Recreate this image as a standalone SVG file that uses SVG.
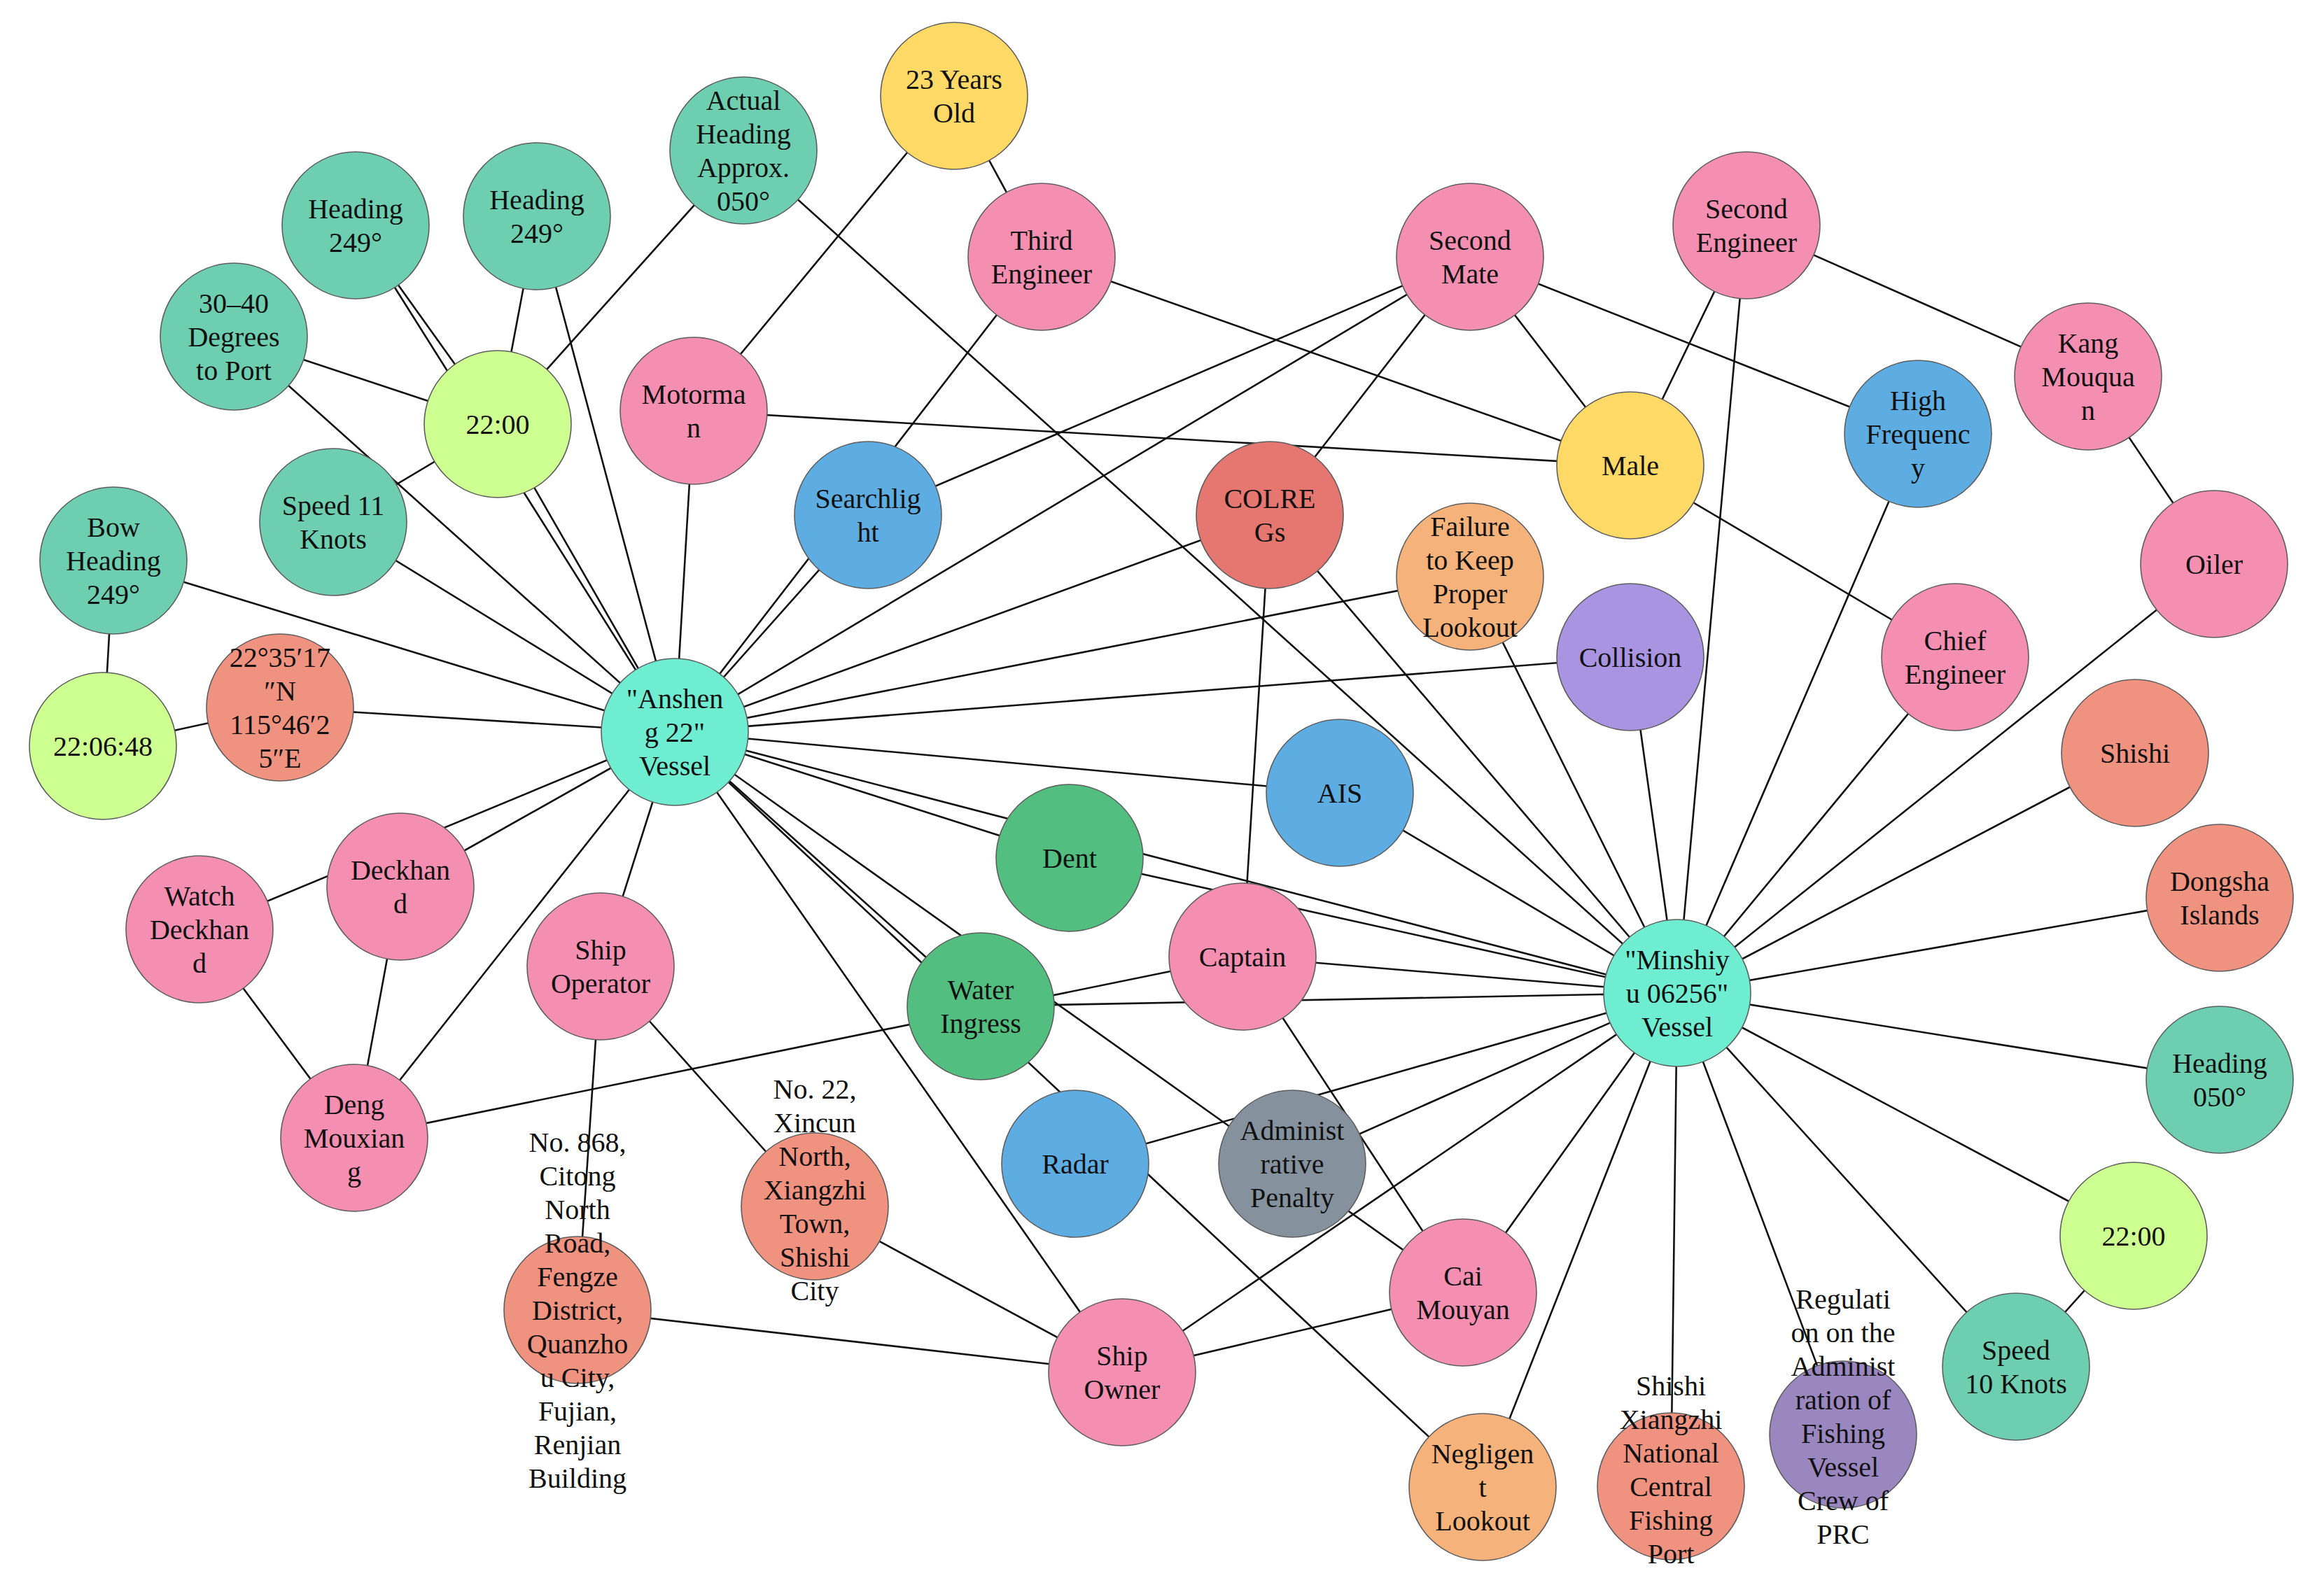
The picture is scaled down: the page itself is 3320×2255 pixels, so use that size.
<svg xmlns="http://www.w3.org/2000/svg" width="3320" height="2255" viewBox="0 0 3320 2255">
<style>
.n circle{stroke:#5e5e5e;stroke-width:1.6}
.vessel{fill:#6FEDD1}.teal{fill:#6DCFB0}.lime{fill:#CDFF91}.yellow{fill:#FFD966}.pink{fill:#F48FB1}.blue{fill:#5DADE2}.red{fill:#E57670}.salmon{fill:#F09280}.orange{fill:#F5B27A}.purple{fill:#A994E2}.purple2{fill:#9B87C0}.gray{fill:#85929E}.green{fill:#52BE80}
text{font-family:"Liberation Serif","Times New Roman",serif;font-size:40px;fill:#111;text-anchor:middle}
#connectors line{stroke:#111;stroke-width:2.6}
</style>
<rect width="3320" height="2255" fill="#fff"/>
<g id="connectors">
<line x1="964" y1="1046" x2="334" y2="481"/>
<line x1="964" y1="1046" x2="476" y2="746"/>
<line x1="964" y1="1046" x2="162" y2="801"/>
<line x1="964" y1="1046" x2="400" y2="1011"/>
<line x1="964" y1="1046" x2="711" y2="606"/>
<line x1="964" y1="1046" x2="508" y2="322"/>
<line x1="964" y1="1046" x2="767" y2="309"/>
<line x1="964" y1="1046" x2="991" y2="587"/>
<line x1="964" y1="1046" x2="1240" y2="736"/>
<line x1="964" y1="1046" x2="1488" y2="367"/>
<line x1="964" y1="1046" x2="2100" y2="367"/>
<line x1="964" y1="1046" x2="1814" y2="736"/>
<line x1="964" y1="1046" x2="2100" y2="824"/>
<line x1="964" y1="1046" x2="2329" y2="939"/>
<line x1="964" y1="1046" x2="1914" y2="1133"/>
<line x1="964" y1="1046" x2="1528" y2="1226"/>
<line x1="964" y1="1046" x2="2396" y2="1419"/>
<line x1="964" y1="1046" x2="2090" y2="1847"/>
<line x1="964" y1="1046" x2="1401" y2="1438"/>
<line x1="964" y1="1046" x2="2118" y2="2125"/>
<line x1="964" y1="1046" x2="1603" y2="1961"/>
<line x1="964" y1="1046" x2="858" y2="1381"/>
<line x1="964" y1="1046" x2="506" y2="1626"/>
<line x1="964" y1="1046" x2="572" y2="1267"/>
<line x1="964" y1="1046" x2="285" y2="1328"/>
<line x1="2396" y1="1419" x2="1062" y2="215"/>
<line x1="2396" y1="1419" x2="2495" y2="322"/>
<line x1="2396" y1="1419" x2="2740" y2="620"/>
<line x1="2396" y1="1419" x2="2793" y2="939"/>
<line x1="2396" y1="1419" x2="3163" y2="806"/>
<line x1="2396" y1="1419" x2="3050" y2="1076"/>
<line x1="2396" y1="1419" x2="3171" y2="1283"/>
<line x1="2396" y1="1419" x2="3171" y2="1543"/>
<line x1="2396" y1="1419" x2="3048" y2="1766"/>
<line x1="2396" y1="1419" x2="2880" y2="1953"/>
<line x1="2396" y1="1419" x2="2633" y2="2050"/>
<line x1="2396" y1="1419" x2="2387" y2="2124"/>
<line x1="2396" y1="1419" x2="2118" y2="2125"/>
<line x1="2396" y1="1419" x2="2090" y2="1847"/>
<line x1="2396" y1="1419" x2="1603" y2="1961"/>
<line x1="2396" y1="1419" x2="1846" y2="1663"/>
<line x1="2396" y1="1419" x2="1536" y2="1663"/>
<line x1="2396" y1="1419" x2="1401" y2="1438"/>
<line x1="2396" y1="1419" x2="1775" y2="1367"/>
<line x1="2396" y1="1419" x2="1528" y2="1226"/>
<line x1="2396" y1="1419" x2="1914" y2="1133"/>
<line x1="2396" y1="1419" x2="1814" y2="736"/>
<line x1="2396" y1="1419" x2="2100" y2="824"/>
<line x1="2396" y1="1419" x2="2329" y2="939"/>
<line x1="508" y1="322" x2="711" y2="606"/>
<line x1="767" y1="309" x2="711" y2="606"/>
<line x1="334" y1="481" x2="711" y2="606"/>
<line x1="476" y1="746" x2="711" y2="606"/>
<line x1="1062" y1="215" x2="711" y2="606"/>
<line x1="162" y1="801" x2="147" y2="1066"/>
<line x1="147" y1="1066" x2="400" y2="1011"/>
<line x1="1363" y1="137" x2="991" y2="587"/>
<line x1="1363" y1="137" x2="1488" y2="367"/>
<line x1="991" y1="587" x2="2329" y2="665"/>
<line x1="1488" y1="367" x2="2329" y2="665"/>
<line x1="2100" y1="367" x2="1240" y2="736"/>
<line x1="2100" y1="367" x2="1814" y2="736"/>
<line x1="2100" y1="367" x2="2329" y2="665"/>
<line x1="2100" y1="367" x2="2740" y2="620"/>
<line x1="2495" y1="322" x2="2329" y2="665"/>
<line x1="2495" y1="322" x2="2983" y2="538"/>
<line x1="2983" y1="538" x2="3163" y2="806"/>
<line x1="2329" y1="665" x2="2793" y2="939"/>
<line x1="1814" y1="736" x2="1775" y2="1367"/>
<line x1="1775" y1="1367" x2="2090" y2="1847"/>
<line x1="506" y1="1626" x2="1775" y2="1367"/>
<line x1="572" y1="1267" x2="506" y2="1626"/>
<line x1="285" y1="1328" x2="506" y2="1626"/>
<line x1="858" y1="1381" x2="825" y2="1872"/>
<line x1="858" y1="1381" x2="1164" y2="1724"/>
<line x1="1164" y1="1724" x2="1603" y2="1961"/>
<line x1="825" y1="1872" x2="1603" y2="1961"/>
<line x1="2090" y1="1847" x2="1603" y2="1961"/>
<line x1="2880" y1="1953" x2="3048" y2="1766"/>
</g>
<g id="n-anshen" class="n"><circle class="vessel" cx="964" cy="1046" r="105"/><text><tspan x="964" y="1012">"Anshen</tspan><tspan x="964" y="1060">g 22"</tspan><tspan x="964" y="1108">Vessel</tspan></text></g>
<g id="n-minshiyu" class="n"><circle class="vessel" cx="2396" cy="1419" r="105"/><text><tspan x="2396" y="1385">"Minshiy</tspan><tspan x="2396" y="1433">u 06256"</tspan><tspan x="2396" y="1481">Vessel</tspan></text></g>
<g id="n-age" class="n"><circle class="yellow" cx="1363" cy="137" r="105"/><text><tspan x="1363" y="127">23 Years</tspan><tspan x="1363" y="175">Old</tspan></text></g>
<g id="n-actual" class="n"><circle class="teal" cx="1062" cy="215" r="105"/><text><tspan x="1062" y="157">Actual</tspan><tspan x="1062" y="205">Heading</tspan><tspan x="1062" y="253">Approx.</tspan><tspan x="1062" y="301">050°</tspan></text></g>
<g id="n-headL" class="n"><circle class="teal" cx="508" cy="322" r="105"/><text><tspan x="508" y="312">Heading</tspan><tspan x="508" y="360">249°</tspan></text></g>
<g id="n-headR" class="n"><circle class="teal" cx="767" cy="309" r="105"/><text><tspan x="767" y="299">Heading</tspan><tspan x="767" y="347">249°</tspan></text></g>
<g id="n-deg" class="n"><circle class="teal" cx="334" cy="481" r="105"/><text><tspan x="334" y="447">30–40</tspan><tspan x="334" y="495">Degrees</tspan><tspan x="334" y="543">to Port</tspan></text></g>
<g id="n-t2200L" class="n"><circle class="lime" cx="711" cy="606" r="105"/><text x="711" y="620">22:00</text></g>
<g id="n-spd11" class="n"><circle class="teal" cx="476" cy="746" r="105"/><text><tspan x="476" y="736">Speed 11</tspan><tspan x="476" y="784">Knots</tspan></text></g>
<g id="n-bow" class="n"><circle class="teal" cx="162" cy="801" r="105"/><text><tspan x="162" y="767">Bow</tspan><tspan x="162" y="815">Heading</tspan><tspan x="162" y="863">249°</tspan></text></g>
<g id="n-t220648" class="n"><circle class="lime" cx="147" cy="1066" r="105"/><text x="147" y="1080">22:06:48</text></g>
<g id="n-coord" class="n"><circle class="salmon" cx="400" cy="1011" r="105"/><text><tspan x="400" y="953">22°35′17</tspan><tspan x="400" y="1001">″N</tspan><tspan x="400" y="1049">115°46′2</tspan><tspan x="400" y="1097">5″E</tspan></text></g>
<g id="n-motorman" class="n"><circle class="pink" cx="991" cy="587" r="105"/><text><tspan x="991" y="577">Motorma</tspan><tspan x="991" y="625">n</tspan></text></g>
<g id="n-third" class="n"><circle class="pink" cx="1488" cy="367" r="105"/><text><tspan x="1488" y="357">Third</tspan><tspan x="1488" y="405">Engineer</tspan></text></g>
<g id="n-search" class="n"><circle class="blue" cx="1240" cy="736" r="105"/><text><tspan x="1240" y="726">Searchlig</tspan><tspan x="1240" y="774">ht</tspan></text></g>
<g id="n-smate" class="n"><circle class="pink" cx="2100" cy="367" r="105"/><text><tspan x="2100" y="357">Second</tspan><tspan x="2100" y="405">Mate</tspan></text></g>
<g id="n-colregs" class="n"><circle class="red" cx="1814" cy="736" r="105"/><text><tspan x="1814" y="726">COLRE</tspan><tspan x="1814" y="774">Gs</tspan></text></g>
<g id="n-seng" class="n"><circle class="pink" cx="2495" cy="322" r="105"/><text><tspan x="2495" y="312">Second</tspan><tspan x="2495" y="360">Engineer</tspan></text></g>
<g id="n-male" class="n"><circle class="yellow" cx="2329" cy="665" r="105"/><text x="2329" y="679">Male</text></g>
<g id="n-hf" class="n"><circle class="blue" cx="2740" cy="620" r="105"/><text><tspan x="2740" y="586">High</tspan><tspan x="2740" y="634">Frequenc</tspan><tspan x="2740" y="682">y</tspan></text></g>
<g id="n-kang" class="n"><circle class="pink" cx="2983" cy="538" r="105"/><text><tspan x="2983" y="504">Kang</tspan><tspan x="2983" y="552">Mouqua</tspan><tspan x="2983" y="600">n</tspan></text></g>
<g id="n-oiler" class="n"><circle class="pink" cx="3163" cy="806" r="105"/><text x="3163" y="820">Oiler</text></g>
<g id="n-failure" class="n"><circle class="orange" cx="2100" cy="824" r="105"/><text><tspan x="2100" y="766">Failure</tspan><tspan x="2100" y="814">to Keep</tspan><tspan x="2100" y="862">Proper</tspan><tspan x="2100" y="910">Lookout</tspan></text></g>
<g id="n-collision" class="n"><circle class="purple" cx="2329" cy="939" r="105"/><text x="2329" y="953">Collision</text></g>
<g id="n-chief" class="n"><circle class="pink" cx="2793" cy="939" r="105"/><text><tspan x="2793" y="929">Chief</tspan><tspan x="2793" y="977">Engineer</tspan></text></g>
<g id="n-shishi" class="n"><circle class="salmon" cx="3050" cy="1076" r="105"/><text x="3050" y="1090">Shishi</text></g>
<g id="n-dongsha" class="n"><circle class="salmon" cx="3171" cy="1283" r="105"/><text><tspan x="3171" y="1273">Dongsha</tspan><tspan x="3171" y="1321">Islands</tspan></text></g>
<g id="n-ais" class="n"><circle class="blue" cx="1914" cy="1133" r="105"/><text x="1914" y="1147">AIS</text></g>
<g id="n-dent" class="n"><circle class="green" cx="1528" cy="1226" r="105"/><text x="1528" y="1240">Dent</text></g>
<g id="n-captain" class="n"><circle class="pink" cx="1775" cy="1367" r="105"/><text x="1775" y="1381">Captain</text></g>
<g id="n-wi" class="n"><circle class="green" cx="1401" cy="1438" r="105"/><text><tspan x="1401" y="1428">Water</tspan><tspan x="1401" y="1476">Ingress</tspan></text></g>
<g id="n-deckhand" class="n"><circle class="pink" cx="572" cy="1267" r="105"/><text><tspan x="572" y="1257">Deckhan</tspan><tspan x="572" y="1305">d</tspan></text></g>
<g id="n-watch" class="n"><circle class="pink" cx="285" cy="1328" r="105"/><text><tspan x="285" y="1294">Watch</tspan><tspan x="285" y="1342">Deckhan</tspan><tspan x="285" y="1390">d</tspan></text></g>
<g id="n-deng" class="n"><circle class="pink" cx="506" cy="1626" r="105"/><text><tspan x="506" y="1592">Deng</tspan><tspan x="506" y="1640">Mouxian</tspan><tspan x="506" y="1688">g</tspan></text></g>
<g id="n-shipop" class="n"><circle class="pink" cx="858" cy="1381" r="105"/><text><tspan x="858" y="1371">Ship</tspan><tspan x="858" y="1419">Operator</tspan></text></g>
<g id="n-addr868" class="n"><circle class="salmon" cx="825" cy="1872" r="105"/><text><tspan x="825" y="1646">No. 868,</tspan><tspan x="825" y="1694">Citong</tspan><tspan x="825" y="1742">North</tspan><tspan x="825" y="1790">Road,</tspan><tspan x="825" y="1838">Fengze</tspan><tspan x="825" y="1886">District,</tspan><tspan x="825" y="1934">Quanzho</tspan><tspan x="825" y="1982">u City,</tspan><tspan x="825" y="2030">Fujian,</tspan><tspan x="825" y="2078">Renjian</tspan><tspan x="825" y="2126">Building</tspan></text></g>
<g id="n-addr22" class="n"><circle class="salmon" cx="1164" cy="1724" r="105"/><text><tspan x="1164" y="1570">No. 22,</tspan><tspan x="1164" y="1618">Xincun</tspan><tspan x="1164" y="1666">North,</tspan><tspan x="1164" y="1714">Xiangzhi</tspan><tspan x="1164" y="1762">Town,</tspan><tspan x="1164" y="1810">Shishi</tspan><tspan x="1164" y="1858">City</tspan></text></g>
<g id="n-radar" class="n"><circle class="blue" cx="1536" cy="1663" r="105"/><text x="1536" y="1677">Radar</text></g>
<g id="n-admin" class="n"><circle class="gray" cx="1846" cy="1663" r="105"/><text><tspan x="1846" y="1629">Administ</tspan><tspan x="1846" y="1677">rative</tspan><tspan x="1846" y="1725">Penalty</tspan></text></g>
<g id="n-cai" class="n"><circle class="pink" cx="2090" cy="1847" r="105"/><text><tspan x="2090" y="1837">Cai</tspan><tspan x="2090" y="1885">Mouyan</tspan></text></g>
<g id="n-owner" class="n"><circle class="pink" cx="1603" cy="1961" r="105"/><text><tspan x="1603" y="1951">Ship</tspan><tspan x="1603" y="1999">Owner</tspan></text></g>
<g id="n-neglig" class="n"><circle class="orange" cx="2118" cy="2125" r="105"/><text><tspan x="2118" y="2091">Negligen</tspan><tspan x="2118" y="2139">t</tspan><tspan x="2118" y="2187">Lookout</tspan></text></g>
<g id="n-port" class="n"><circle class="salmon" cx="2387" cy="2124" r="105"/><text><tspan x="2387" y="1994">Shishi</tspan><tspan x="2387" y="2042">Xiangzhi</tspan><tspan x="2387" y="2090">National</tspan><tspan x="2387" y="2138">Central</tspan><tspan x="2387" y="2186">Fishing</tspan><tspan x="2387" y="2234">Port</tspan></text></g>
<g id="n-reg" class="n"><circle class="purple2" cx="2633" cy="2050" r="105"/><text><tspan x="2633" y="1870">Regulati</tspan><tspan x="2633" y="1918">on on the</tspan><tspan x="2633" y="1966">Administ</tspan><tspan x="2633" y="2014">ration of</tspan><tspan x="2633" y="2062">Fishing</tspan><tspan x="2633" y="2110">Vessel</tspan><tspan x="2633" y="2158">Crew of</tspan><tspan x="2633" y="2206">PRC</tspan></text></g>
<g id="n-spd10" class="n"><circle class="teal" cx="2880" cy="1953" r="105"/><text><tspan x="2880" y="1943">Speed</tspan><tspan x="2880" y="1991">10 Knots</tspan></text></g>
<g id="n-t2200R" class="n"><circle class="lime" cx="3048" cy="1766" r="105"/><text x="3048" y="1780">22:00</text></g>
<g id="n-head050" class="n"><circle class="teal" cx="3171" cy="1543" r="105"/><text><tspan x="3171" y="1533">Heading</tspan><tspan x="3171" y="1581">050°</tspan></text></g>
</svg>
